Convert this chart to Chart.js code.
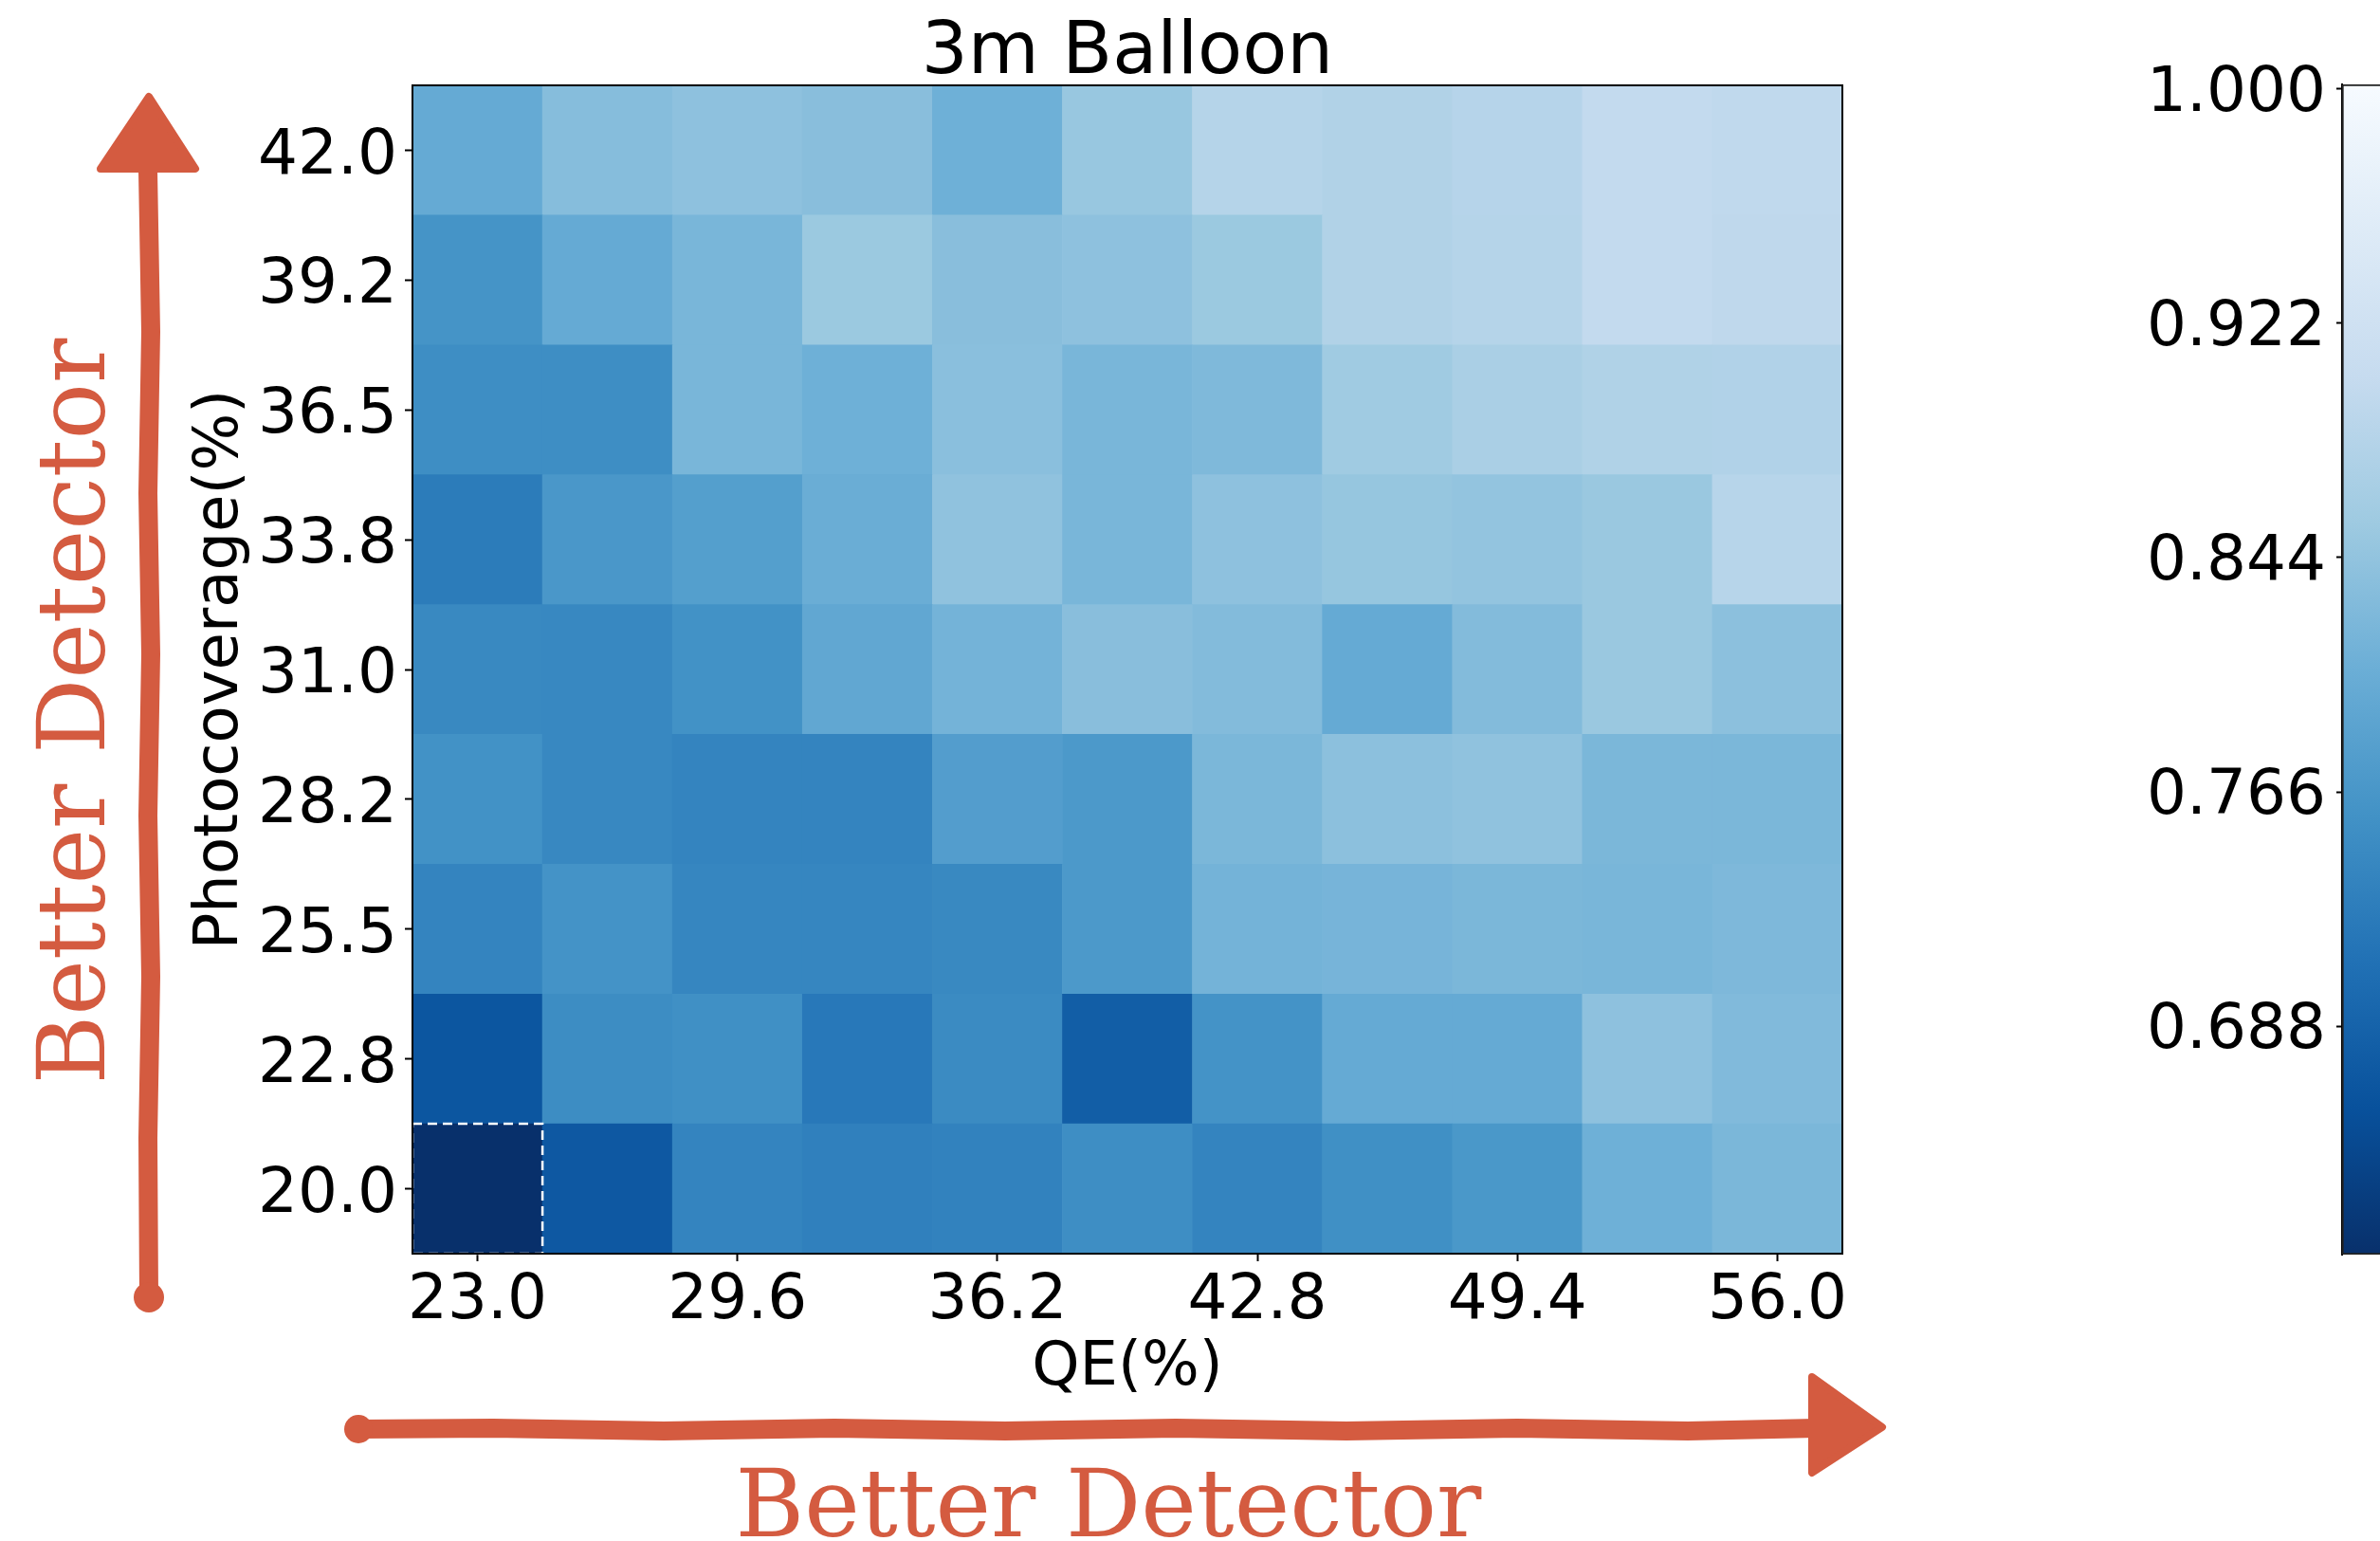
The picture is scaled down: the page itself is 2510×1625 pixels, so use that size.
<!DOCTYPE html>
<html>
<head>
<meta charset="utf-8">
<title>3m Balloon</title>
<script src="https://cdn.jsdelivr.net/npm/chart.js@4.4.0/dist/chart.umd.min.js"></script>
<style>
  html, body { margin: 0; padding: 0; background: #fff; overflow: hidden; }
  #wrap { position: relative; width: 2510px; height: 1625px; }
  #heat { position: absolute; left: 0; top: 0; width: 2510px; height: 1625px; }
  #cbar { position: absolute; left: 2200px; top: 0; width: 400px; height: 1625px; }
</style>
</head>
<body>
<div id="wrap">
  <canvas id="heat" width="2510" height="1625"></canvas>
  <canvas id="cbar" width="400" height="1625"></canvas>
</div>
<script>
// axes
const qeLabels = ['23.0', '26.3', '29.6', '32.9', '36.2', '39.5', '42.8', '46.1', '49.4', '52.7', '56.0'];
const pcLabels = ['20.0', '22.8', '25.5', '28.2', '31.0', '33.8', '36.5', '39.2', '42.0'];

// efficiency per photocoverage row, one value per QE column
const pc20_0 = [0.612, 0.672, 0.738, 0.732, 0.735, 0.752, 0.738, 0.755, 0.768, 0.810, 0.822];
const pc22_8 = [0.668, 0.750, 0.755, 0.720, 0.748, 0.680, 0.760, 0.800, 0.800, 0.840, 0.828];
const pc25_5 = [0.737, 0.760, 0.740, 0.740, 0.745, 0.770, 0.815, 0.818, 0.822, 0.820, 0.825];
const pc28_2 = [0.758, 0.743, 0.738, 0.738, 0.778, 0.770, 0.822, 0.838, 0.842, 0.822, 0.822];
const pc31_0 = [0.745, 0.744, 0.758, 0.795, 0.815, 0.835, 0.830, 0.800, 0.830, 0.852, 0.838];
const pc33_8 = [0.725, 0.767, 0.780, 0.805, 0.842, 0.820, 0.840, 0.848, 0.845, 0.852, 0.886];
const pc36_5 = [0.752, 0.752, 0.820, 0.810, 0.836, 0.820, 0.826, 0.858, 0.870, 0.877, 0.879];
const pc39_2 = [0.762, 0.800, 0.820, 0.853, 0.835, 0.840, 0.853, 0.878, 0.884, 0.900, 0.895];
const pc42_0 = [0.800, 0.833, 0.840, 0.835, 0.810, 0.850, 0.883, 0.878, 0.885, 0.900, 0.897];

// colour scale
const cbarMin = 0.612;
const cbarMax = 1.0015;
const cbarTicks = [0.688, 0.766, 0.844, 0.922, 1.000];

const rows = [pc20_0, pc22_8, pc25_5, pc28_2, pc31_0, pc33_8, pc36_5, pc39_2, pc42_0];

const ORANGE = '#d45b40';
Chart.defaults.font.family = "'DejaVu Sans', sans-serif";
Chart.defaults.color = '#000';

// matplotlib "Blues", light to dark
const blues = [
  [247, 251, 255], [222, 235, 247], [198, 219, 239], [158, 202, 225], [107, 174, 214],
  [66, 146, 198], [33, 113, 181], [8, 81, 156], [8, 48, 107]
];

function bluesR(v) {
  let t = (v - cbarMin) / (cbarMax - cbarMin);
  t = Math.min(1, Math.max(0, t));
  const p = (1 - t) * 8;
  const i = Math.min(7, Math.floor(p));
  const f = p - i;
  const a = blues[i], b = blues[i + 1];
  const c = a.map((ch, k) => Math.round(ch + (b[k] - ch) * f));
  return `rgb(${c[0]}, ${c[1]}, ${c[2]})`;
}

// each row is one dataset of floating bars [row, row+1]
const datasets = rows.map((vals, r) => ({
  label: pcLabels[r],
  data: vals.map(() => [r, r + 1]),
  backgroundColor: vals.map(bluesR),
  borderWidth: 0,
  barPercentage: 1,
  categoryPercentage: 1
}));

// frame, box round the lowest cell, arrows and side notes
const decor = {
  id: 'decor',
  afterDatasetsDraw(chart) {
    const { ctx, chartArea: a, scales: { x, y } } = chart;

    // find the minimum cell
    let minR = 0, minC = 0;
    rows.forEach((vals, r) => vals.forEach((v, c) => {
      if (v < rows[minR][minC]) { minR = r; minC = c; }
    }));
    const half = (x.getPixelForValue(1) - x.getPixelForValue(0)) / 2;
    const cx = x.getPixelForValue(minC);
    ctx.save();
    ctx.strokeStyle = '#fff';
    ctx.lineWidth = 2.5;
    ctx.setLineDash([10, 6]);
    ctx.strokeRect(cx - half, y.getPixelForValue(minR + 1), half * 2, y.getPixelForValue(minR) - y.getPixelForValue(minR + 1));
    ctx.restore();

    ctx.save();
    ctx.strokeStyle = '#000';
    ctx.lineWidth = 2;
    ctx.strokeRect(a.left, a.top, a.width, a.height);
    ctx.restore();
  },
  afterDraw(chart) {
    const ctx = chart.ctx;
    ctx.save();
    ctx.fillStyle = ORANGE;
    ctx.strokeStyle = ORANGE;
    ctx.lineCap = 'round';
    ctx.lineJoin = 'round';

    // horizontal arrow
    ctx.lineWidth = 20;
    ctx.beginPath();
    ctx.moveTo(378, 1507);
    const hx = [520, 700, 880, 1060, 1240, 1420, 1600, 1780, 1915];
    hx.forEach((px, i) => ctx.lineTo(px, 1507 + (i % 2 ? 2 : -1)));
    ctx.stroke();
    ctx.beginPath();
    ctx.arc(378, 1507, 15, 0, Math.PI * 2);
    ctx.fill();
    ctx.lineWidth = 8;
    ctx.beginPath();
    ctx.moveTo(1911, 1452);
    ctx.lineTo(1985, 1505);
    ctx.lineTo(1911, 1553);
    ctx.closePath();
    ctx.fill();
    ctx.stroke();

    // vertical arrow
    ctx.lineWidth = 20;
    ctx.beginPath();
    ctx.moveTo(157, 1368);
    const vy = [1200, 1030, 860, 690, 520, 350, 180];
    vy.forEach((py, i) => ctx.lineTo(157 + (i % 2 ? 2 : -1), py));
    ctx.stroke();
    ctx.beginPath();
    ctx.arc(157, 1368, 16, 0, Math.PI * 2);
    ctx.fill();
    ctx.lineWidth = 8;
    ctx.beginPath();
    ctx.moveTo(106, 178);
    ctx.lineTo(157, 102);
    ctx.lineTo(206, 178);
    ctx.closePath();
    ctx.fill();
    ctx.stroke();

    // labels
    ctx.font = "99px 'DejaVu Serif', serif";
    ctx.textAlign = 'center';
    ctx.textBaseline = 'alphabetic';
    ctx.fillText('Better Detector', 1169, 1620, 803);
    ctx.translate(110, 750);
    ctx.rotate(-Math.PI / 2);
    ctx.fillText('Better Detector', 0, 0, 801);
    ctx.restore();
  }
};

new Chart(document.getElementById('heat'), {
  type: 'bar',
  data: { labels: qeLabels, datasets: datasets },
  options: {
    responsive: false,
    animation: false,
    events: [],
    layout: { padding: { left: 190, right: 567, top: 0, bottom: 143 } },
    plugins: {
      legend: { display: false },
      tooltip: { enabled: false },
      title: {
        display: true,
        text: '3m Balloon',
        fullSize: false,
        color: '#000',
        font: { size: 77, weight: 'normal', lineHeight: 1 },
        padding: { top: 18, bottom: -5 }
      }
    },
    scales: {
      x: {
        type: 'category',
        stacked: true,
        offset: true,
        afterFit(s) { s.height = 160; },
        grid: {
          offset: false,
          drawOnChartArea: false,
          tickLength: 8,
          tickWidth: 2,
          tickColor: (c) => (c.index % 2 === 0 ? '#000' : 'rgba(0,0,0,0)')
        },
        border: { display: true, color: '#000', width: 2 },
        ticks: {
          autoSkip: false,
          maxRotation: 0,
          padding: 3,
          font: { size: 66 },
          callback(v, i) { return i % 2 === 0 ? qeLabels[i] : ''; }
        },
        title: { display: true, text: 'QE(%)', font: { size: 64 }, padding: { top: 0, bottom: 0 } }
      },
      y: {
        type: 'linear',
        min: 0,
        max: rows.length,
        afterFit(s) { s.width = 245; },
        afterBuildTicks(s) { s.ticks = pcLabels.map((_, i) => ({ value: i + 0.5 })); },
        grid: { drawOnChartArea: false, tickLength: 8, tickWidth: 2, tickColor: '#000' },
        border: { display: true, color: '#000', width: 2 },
        ticks: {
          padding: 8,
          labelOffset: 7,
          font: { size: 66 },
          callback(v) { return pcLabels[Math.round(v - 0.5)]; }
        },
        title: { display: true, text: 'Photocoverage(%)', font: { size: 64 }, padding: { top: 5, bottom: 0 } }
      }
    }
  },
  plugins: [decor]
});

// colour bar
new Chart(document.getElementById('cbar'), {
  type: 'bar',
  data: {
    labels: [''],
    datasets: [{
      data: [[cbarMin, cbarMax]],
      backgroundColor(c) {
        const chart = c.chart;
        const ys = chart.scales.y;
        if (!chart.chartArea || !ys) return bluesR(cbarMax);
        const g = chart.ctx.createLinearGradient(0, ys.getPixelForValue(cbarMin), 0, ys.getPixelForValue(cbarMax));
        blues.forEach((s, k) => g.addColorStop(k / 8, `rgb(${blues[8 - k].join(',')})`));
        return g;
      },
      borderColor: '#222',
      borderWidth: 2,
      borderSkipped: false,
      barPercentage: 1,
      categoryPercentage: 1
    }]
  },
  options: {
    responsive: false,
    animation: false,
    events: [],
    layout: { padding: { top: 89, bottom: 302, left: 0, right: 55 } },
    plugins: { legend: { display: false }, tooltip: { enabled: false } },
    scales: {
      x: { display: false },
      y: {
        min: cbarMin,
        max: cbarMax,
        afterFit(s) { s.width = 270; },
        afterBuildTicks(s) { s.ticks = cbarTicks.map(v => ({ value: v })); },
        grid: { drawOnChartArea: false, tickLength: 6, tickWidth: 2, tickColor: '#000' },
        border: { display: true, color: '#000', width: 2 },
        ticks: { padding: 11, labelOffset: 6, font: { size: 66 }, callback: v => v.toFixed(3) }
      }
    }
  }
});
</script>
</body>
</html>
